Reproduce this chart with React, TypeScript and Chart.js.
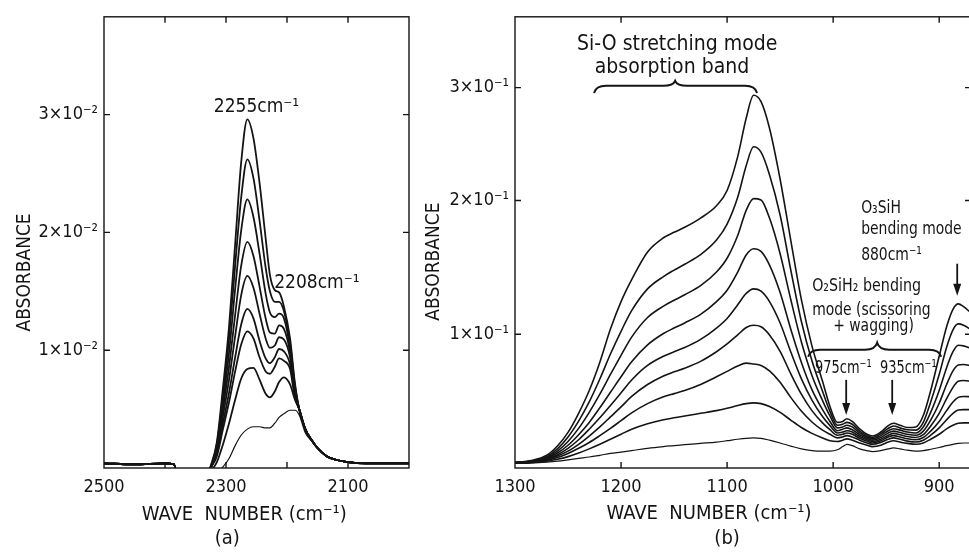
import { useEffect, useRef } from 'react';
import { Chart, registerables, LinearScale } from 'chart.js';

const FONT = "'DejaVu Sans Condensed', 'Liberation Sans Narrow', 'DejaVu Sans', sans-serif";
const INK = '#141414';

// ---------------- panel (a): Si-H stretching region ----------------
const WN_A = [2500, 2450, 2400, 2385, 2380, 2360, 2335, 2325, 2315, 2305, 2295, 2285, 2275, 2265, 2255, 2245, 2235, 2228, 2220, 2213, 2205, 2195, 2187, 2180, 2170, 2160, 2150, 2135, 2120, 2100, 2070, 2040, 2000];
const A1 = [0.0004, 0.0003, 0.0004, 0.0003, -0.0012, -0.002, -0.0012, 0.0002, 0.0022, 0.0068, 0.012, 0.019, 0.026, 0.0296, 0.028, 0.0242, 0.0195, 0.0164, 0.0151, 0.0149, 0.0137, 0.011, 0.0072, 0.005, 0.0033, 0.0024, 0.0017, 0.001, 0.0007, 0.0005, 0.0004, 0.0004, 0.0004];
const A2 = [0.0004, 0.0003, 0.0004, 0.0003, -0.0012, -0.002, -0.0012, 0.0001, 0.002, 0.0062, 0.011, 0.0172, 0.023, 0.0262, 0.0246, 0.021, 0.017, 0.015, 0.0141, 0.0141, 0.0133, 0.0106, 0.007, 0.005, 0.0033, 0.0024, 0.0017, 0.001, 0.0007, 0.0005, 0.0004, 0.0004, 0.0004];
const A3 = [0.0004, 0.0003, 0.0004, 0.0003, -0.0012, -0.002, -0.0012, 0.0001, 0.0018, 0.0056, 0.0098, 0.0152, 0.0202, 0.0228, 0.0213, 0.0182, 0.0148, 0.0132, 0.0128, 0.0131, 0.0127, 0.0102, 0.0068, 0.005, 0.0033, 0.0024, 0.0017, 0.001, 0.0007, 0.0005, 0.0004, 0.0004, 0.0004];
const A4 = [0.0004, 0.0003, 0.0004, 0.0003, -0.0012, -0.002, -0.0012, 0.0, 0.0016, 0.005, 0.0086, 0.013, 0.0172, 0.0192, 0.018, 0.0154, 0.0127, 0.0115, 0.0114, 0.0121, 0.0118, 0.0098, 0.0066, 0.005, 0.0033, 0.0024, 0.0017, 0.001, 0.0007, 0.0005, 0.0004, 0.0004, 0.0004];
const A5 = [0.0004, 0.0003, 0.0004, 0.0003, -0.0012, -0.002, -0.0012, 0.0, 0.0014, 0.0044, 0.0075, 0.0112, 0.0147, 0.0163, 0.0153, 0.0131, 0.011, 0.0102, 0.0104, 0.0111, 0.0109, 0.0094, 0.0064, 0.005, 0.0033, 0.0024, 0.0017, 0.001, 0.0007, 0.0005, 0.0004, 0.0004, 0.0004];
const A6 = [0.0004, 0.0003, 0.0004, 0.0003, -0.0012, -0.002, -0.0012, 0.0, 0.0012, 0.0038, 0.0064, 0.0094, 0.0122, 0.0135, 0.0127, 0.0108, 0.0093, 0.0089, 0.0094, 0.0101, 0.0099, 0.0088, 0.0062, 0.005, 0.0033, 0.0024, 0.0017, 0.001, 0.0007, 0.0005, 0.0004, 0.0004, 0.0004];
const A7 = [0.0004, 0.0003, 0.0004, 0.0003, -0.0012, -0.002, -0.0012, 0.0, 0.001, 0.0033, 0.0056, 0.0082, 0.0105, 0.0116, 0.011, 0.0094, 0.0082, 0.008, 0.0086, 0.0093, 0.0091, 0.0084, 0.006, 0.005, 0.0033, 0.0024, 0.0017, 0.001, 0.0007, 0.0005, 0.0004, 0.0004, 0.0004];
const A8 = [0.0004, 0.0003, 0.0004, 0.0003, -0.0012, -0.002, -0.0012, -0.0003, 0.0005, 0.002, 0.0038, 0.0058, 0.0076, 0.0084, 0.0085, 0.0075, 0.0063, 0.006, 0.0065, 0.0073, 0.0077, 0.0071, 0.0058, 0.005, 0.0033, 0.0024, 0.0017, 0.001, 0.0007, 0.0005, 0.0004, 0.0004, 0.0004];
const A9 = [0.0004, 0.0003, 0.0004, 0.0003, -0.0012, -0.002, -0.0012, -0.0008, -0.0004, 0.0001, 0.0008, 0.0019, 0.0028, 0.0033, 0.0035, 0.0035, 0.0034, 0.0034, 0.0038, 0.0043, 0.0046, 0.0049, 0.0049, 0.0045, 0.003, 0.0023, 0.0017, 0.001, 0.0007, 0.0005, 0.0004, 0.0004, 0.0004];
const SERIES_A = [A1, A2, A3, A4, A5, A6, A7, A8, A9];
const X_LABELS_A = [2500, 2300, 2100];
const X_MARKS_A = [2400, 2300, 2200, 2100];
const Y_TICKS_A = [0.01, 0.02, 0.03];
const Y_LABELS_A = ['1×10⁻²', '2×10⁻²', '3×10⁻²'];

// ---------------- panel (b): Si-O and bending region ----------------
const WN_B = [1300, 1285, 1270, 1260, 1250, 1240, 1230, 1220, 1210, 1200, 1190, 1175, 1160, 1150, 1140, 1125, 1110, 1100, 1090, 1082, 1075, 1068, 1060, 1050, 1040, 1030, 1020, 1010, 1003, 996, 991, 987, 982, 975, 968, 963, 955, 948, 943, 937, 930, 922, 915, 908, 900, 893, 887, 882, 877, 870];
const B1 = [0.0041, 0.0055, 0.0095, 0.0164, 0.0266, 0.0409, 0.0579, 0.0791, 0.1039, 0.1244, 0.1408, 0.1615, 0.1721, 0.1762, 0.1799, 0.1868, 0.196, 0.2088, 0.2388, 0.2728, 0.2932, 0.2876, 0.264, 0.2188, 0.1704, 0.1261, 0.0913, 0.0648, 0.046, 0.0341, 0.0348, 0.0368, 0.0348, 0.0293, 0.0252, 0.0239, 0.0269, 0.0317, 0.0334, 0.032, 0.0303, 0.0307, 0.0392, 0.0579, 0.0835, 0.1056, 0.1186, 0.1227, 0.1206, 0.1159];
const B2 = [0.0041, 0.0051, 0.0085, 0.0143, 0.0232, 0.0351, 0.0494, 0.0665, 0.0852, 0.1022, 0.1176, 0.1339, 0.1431, 0.1479, 0.1523, 0.1595, 0.1704, 0.1823, 0.2028, 0.2308, 0.2476, 0.2428, 0.2228, 0.1891, 0.1482, 0.1097, 0.0801, 0.0573, 0.0423, 0.032, 0.0327, 0.0341, 0.0327, 0.0276, 0.0242, 0.0228, 0.0256, 0.0296, 0.0314, 0.03, 0.0286, 0.0283, 0.0341, 0.0494, 0.0699, 0.0903, 0.1033, 0.1077, 0.1067, 0.1033];
const B3 = [0.0041, 0.0051, 0.0078, 0.0126, 0.0198, 0.0296, 0.0416, 0.0552, 0.0699, 0.0842, 0.0978, 0.1125, 0.121, 0.1254, 0.1295, 0.1363, 0.1465, 0.1568, 0.1738, 0.1926, 0.2016, 0.2004, 0.1868, 0.1602, 0.1261, 0.0944, 0.0692, 0.0504, 0.0389, 0.03, 0.0307, 0.032, 0.0307, 0.0262, 0.0232, 0.0218, 0.0242, 0.0279, 0.0293, 0.0283, 0.0269, 0.0262, 0.0307, 0.0416, 0.0579, 0.075, 0.0869, 0.0917, 0.0913, 0.0893];
const B4 = [0.0041, 0.0048, 0.0072, 0.0112, 0.017, 0.0249, 0.0341, 0.045, 0.0566, 0.0682, 0.0794, 0.092, 0.1005, 0.1046, 0.1084, 0.1148, 0.1244, 0.1329, 0.1465, 0.1592, 0.1639, 0.1619, 0.1517, 0.1312, 0.1039, 0.0791, 0.0586, 0.0436, 0.0348, 0.0279, 0.029, 0.03, 0.0286, 0.0249, 0.0222, 0.0208, 0.0228, 0.0262, 0.0276, 0.0266, 0.0252, 0.0245, 0.0276, 0.0358, 0.0484, 0.0624, 0.0726, 0.077, 0.0774, 0.0763];
const B5 = [0.0041, 0.0048, 0.0065, 0.0099, 0.0147, 0.0211, 0.029, 0.0375, 0.0467, 0.0562, 0.0658, 0.0767, 0.0835, 0.0869, 0.09, 0.0961, 0.1046, 0.1118, 0.122, 0.1305, 0.1339, 0.1322, 0.1244, 0.1084, 0.0869, 0.0668, 0.0508, 0.0385, 0.0317, 0.0262, 0.0269, 0.0279, 0.0269, 0.0235, 0.0211, 0.0198, 0.0215, 0.0245, 0.0259, 0.0249, 0.0235, 0.0228, 0.0249, 0.0314, 0.0409, 0.0518, 0.0603, 0.0648, 0.0654, 0.0648];
const B6 = [0.0041, 0.0044, 0.0061, 0.0089, 0.0126, 0.0177, 0.0239, 0.0307, 0.0382, 0.0457, 0.0535, 0.0624, 0.0688, 0.0719, 0.0746, 0.0797, 0.0869, 0.0927, 0.0995, 0.105, 0.1067, 0.1056, 0.0995, 0.0872, 0.0705, 0.0552, 0.0429, 0.0337, 0.0286, 0.0245, 0.0252, 0.0262, 0.0252, 0.0222, 0.0201, 0.0187, 0.0204, 0.0232, 0.0242, 0.0232, 0.0218, 0.0211, 0.0228, 0.0276, 0.0348, 0.0429, 0.0494, 0.0528, 0.0535, 0.0532];
const B7 = [0.0041, 0.0044, 0.0058, 0.0078, 0.0109, 0.0147, 0.0191, 0.0242, 0.0296, 0.0354, 0.0412, 0.0481, 0.0532, 0.0556, 0.0579, 0.0624, 0.0682, 0.0722, 0.0763, 0.0784, 0.0777, 0.0767, 0.0726, 0.0641, 0.0528, 0.0426, 0.0344, 0.0283, 0.0252, 0.0225, 0.0232, 0.0242, 0.0232, 0.0208, 0.0187, 0.0177, 0.0191, 0.0215, 0.0225, 0.0215, 0.0201, 0.0194, 0.0208, 0.0245, 0.03, 0.0361, 0.0409, 0.0433, 0.0436, 0.0436];
const B8 = [0.0037, 0.0041, 0.0051, 0.0065, 0.0085, 0.0112, 0.0143, 0.0177, 0.0215, 0.0252, 0.029, 0.0331, 0.0361, 0.0375, 0.0389, 0.0409, 0.0429, 0.0446, 0.0467, 0.0481, 0.0487, 0.0481, 0.046, 0.0416, 0.0358, 0.0303, 0.0259, 0.0225, 0.0204, 0.0198, 0.0208, 0.0218, 0.0208, 0.0187, 0.017, 0.016, 0.017, 0.0194, 0.0204, 0.0194, 0.0184, 0.0177, 0.0187, 0.0215, 0.0252, 0.0293, 0.032, 0.0334, 0.0337, 0.0337];
const B9 = [0.0034, 0.0037, 0.0044, 0.0051, 0.0061, 0.0072, 0.0082, 0.0095, 0.0109, 0.0119, 0.013, 0.0147, 0.016, 0.0167, 0.0174, 0.0184, 0.0194, 0.0204, 0.0215, 0.0222, 0.0225, 0.0222, 0.0208, 0.0187, 0.0164, 0.0143, 0.013, 0.0126, 0.0126, 0.0136, 0.016, 0.0177, 0.0167, 0.0143, 0.013, 0.0123, 0.013, 0.0143, 0.015, 0.0143, 0.0133, 0.0126, 0.013, 0.014, 0.0153, 0.0167, 0.0177, 0.0184, 0.0187, 0.0187];
const SERIES_B = [B1, B2, B3, B4, B5, B6, B7, B8, B9];
const X_LABELS_B = [1300, 1200, 1100, 1000, 900];
const X_MARKS_B = [1200, 1100, 1000, 900];
const Y_TICKS_B = [0.1, 0.2, 0.3];
const Y_LABELS_B = ['1×10⁻¹', '2×10⁻¹', '3×10⁻¹'];

// the printed absorbance axis of (b) is not evenly graduated: value knots vs fraction of axis height
const B_AXIS_VALUES = [0, 0.2, 0.3, 0.3628];
const B_AXIS_FRACTIONS = [0, 0.593, 0.843, 1];

function interp(xs: number[], ys: number[], v: number) {
  const n = xs.length;
  let i = 1;
  while (i < n - 1 && v > xs[i]) i++;
  return ys[i - 1] + ((v - xs[i - 1]) * (ys[i] - ys[i - 1])) / (xs[i] - xs[i - 1]);
}

class BrokenLinearScale extends LinearScale {
  static id = 'brokenLinear';
  static defaults = {};
  getPixelForValue(value: any) {
    if (value === null || value === undefined || Number.isNaN(value)) return NaN;
    return (this as any).getPixelForDecimal(interp(B_AXIS_VALUES, B_AXIS_FRACTIONS, value));
  }
  getValueForPixel(pixel: number) {
    return interp(B_AXIS_FRACTIONS, B_AXIS_VALUES, (this as any).getDecimalForPixel(pixel));
  }
}

Chart.register(...registerables, BrokenLinearScale);

type TextItem = { text: string; x: number; y: number; align?: CanvasTextAlign; size?: number; squeeze?: number };
type Spec = {
  xMarks: number[];
  yMarks: number[];
  texts: TextItem[];
  arrows: { x: number; from: number; to: number }[];
  braces: { x1: number; x2: number; xc: number; body: number; end: number; tip: number }[];
  below: { text: string; x: number; dy: number }[];
  yTitle: { text: string; y: number; dx: number };
};

function decor(spec: Spec) {
  return {
    id: 'decor',
    afterDraw(chart: any) {
      const ctx = chart.ctx as CanvasRenderingContext2D;
      const a = chart.chartArea;
      const xs = chart.scales.x;
      const ys = chart.scales.y;
      ctx.save();
      ctx.strokeStyle = INK;
      ctx.lineWidth = 1.4;
      ctx.strokeRect(a.left, a.top, a.right - a.left, a.bottom - a.top);
      const L = 6;
      ctx.beginPath();
      for (const v of spec.xMarks) {
        const px = xs.getPixelForValue(v);
        ctx.moveTo(px, a.bottom);
        ctx.lineTo(px, a.bottom - L);
        ctx.moveTo(px, a.top);
        ctx.lineTo(px, a.top + L);
      }
      for (const v of spec.yMarks) {
        const py = ys.getPixelForValue(v);
        ctx.moveTo(a.left, py);
        ctx.lineTo(a.left + L, py);
        ctx.moveTo(a.right, py);
        ctx.lineTo(a.right - L, py);
      }
      ctx.stroke();

      ctx.fillStyle = INK;
      ctx.textBaseline = 'alphabetic';
      for (const t of spec.texts) {
        ctx.save();
        ctx.font = `${t.size || 17}px ${FONT}`;
        ctx.textAlign = t.align || 'left';
        ctx.translate(xs.getPixelForValue(t.x), ys.getPixelForValue(t.y));
        ctx.scale(t.squeeze || 1, 1);
        ctx.fillText(t.text, 0, 0);
        ctx.restore();
      }
      for (const t of spec.below) {
        ctx.font = `20px ${FONT}`;
        ctx.textAlign = 'center';
        ctx.fillText(t.text, xs.getPixelForValue(t.x), a.bottom + t.dy);
      }
      ctx.save();
      ctx.font = `19px ${FONT}`;
      ctx.textAlign = 'center';
      ctx.textBaseline = 'middle';
      ctx.translate(a.left - spec.yTitle.dx, ys.getPixelForValue(spec.yTitle.y));
      ctx.rotate(-Math.PI / 2);
      ctx.fillText(spec.yTitle.text, 0, 0);
      ctx.restore();

      ctx.lineWidth = 1.8;
      for (const ar of spec.arrows) {
        const px = xs.getPixelForValue(ar.x);
        const y1 = ys.getPixelForValue(ar.from);
        const y2 = ys.getPixelForValue(ar.to);
        ctx.beginPath();
        ctx.moveTo(px, y1);
        ctx.lineTo(px, y2 - 8);
        ctx.stroke();
        ctx.beginPath();
        ctx.moveTo(px - 4, y2 - 12);
        ctx.lineTo(px + 4, y2 - 12);
        ctx.lineTo(px, y2);
        ctx.closePath();
        ctx.fill();
      }
      ctx.lineWidth = 2;
      for (const b of spec.braces) {
        const x1 = xs.getPixelForValue(b.x1);
        const x2 = xs.getPixelForValue(b.x2);
        const xc = xs.getPixelForValue(b.xc);
        const yb = ys.getPixelForValue(b.body);
        const ye = ys.getPixelForValue(b.end);
        const yt = ys.getPixelForValue(b.tip);
        const r = 12;
        ctx.beginPath();
        ctx.moveTo(x1, ye);
        ctx.quadraticCurveTo(x1 + 2, yb, x1 + r, yb);
        ctx.lineTo(xc - r, yb);
        ctx.quadraticCurveTo(xc - 2, yb, xc, yt);
        ctx.quadraticCurveTo(xc + 2, yb, xc + r, yb);
        ctx.lineTo(x2 - r, yb);
        ctx.quadraticCurveTo(x2 - 2, yb, x2, ye);
        ctx.stroke();
      }
      ctx.restore();
    },
  };
}

function makeConfig(opts: {
  wn: number[];
  series: number[][];
  xMin: number;
  xMax: number;
  xLabels: number[];
  yType: string;
  yMax: number;
  yTicks: number[];
  yLabels: string[];
  yAxisWidth: number;
  padRight: number;
  lineWidth: number;
  spec: Spec;
}) {
  const tickFont = { family: FONT, size: 18 };
  return {
    type: 'line' as const,
    data: {
      datasets: opts.series.map((s, i) => ({
        data: opts.wn.map((x, j) => ({ x, y: s[j] })),
        borderColor: INK,
        borderWidth: i === opts.series.length - 1 ? 1.2 : opts.lineWidth,
        pointRadius: 0,
        fill: false,
        cubicInterpolationMode: 'monotone' as const,
        clip: 0,
      })),
    },
    options: {
      responsive: false,
      animation: false as const,
      devicePixelRatio: 1,
      events: [],
      layout: { padding: { top: 13, right: opts.padRight, left: 0, bottom: 0 } },
      plugins: { legend: { display: false }, tooltip: { enabled: false } },
      scales: {
        x: {
          type: 'linear' as const,
          reverse: true,
          min: opts.xMin,
          max: opts.xMax,
          afterBuildTicks: (s: any) => {
            s.ticks = opts.xLabels.map((v) => ({ value: v }));
          },
          afterFit: (s: any) => {
            s.height = 84;
          },
          ticks: { autoSkip: false, maxRotation: 0, padding: 9, font: tickFont, color: INK, callback: (v: any) => String(v) },
          grid: { display: false, drawTicks: false },
          border: { display: false },
        },
        y: {
          type: opts.yType as any,
          min: 0,
          max: opts.yMax,
          afterBuildTicks: (s: any) => {
            s.ticks = opts.yTicks.map((v) => ({ value: v }));
          },
          afterFit: (s: any) => {
            s.width = opts.yAxisWidth;
          },
          ticks: {
            autoSkip: false,
            padding: 6,
            font: tickFont,
            color: INK,
            callback: (v: any) => {
              const k = opts.yTicks.indexOf(v);
              return k >= 0 ? opts.yLabels[k] : '';
            },
          },
          grid: { display: false, drawTicks: false },
          border: { display: false },
        },
      },
    },
    plugins: [decor(opts.spec)],
  };
}

export default function App() {
  const refA = useRef<HTMLCanvasElement>(null);
  const refB = useRef<HTMLCanvasElement>(null);

  useEffect(() => {
    const chartA = new Chart(
      refA.current as HTMLCanvasElement,
      makeConfig({
        wn: WN_A,
        series: SERIES_A,
        xMin: 2000,
        xMax: 2500,
        xLabels: X_LABELS_A,
        yType: 'linear',
        yMax: 0.0383,
        yTicks: Y_TICKS_A,
        yLabels: Y_LABELS_A,
        yAxisWidth: 104,
        padRight: 3,
        lineWidth: 1.8,
        spec: {
          xMarks: X_MARKS_A,
          yMarks: Y_TICKS_A,
          texts: [
            { text: '2255cm⁻¹', x: 2320, y: 0.0302, size: 19 },
            { text: '2208cm⁻¹', x: 2221, y: 0.0153, size: 19 },
          ],
          arrows: [],
          braces: [],
          below: [
            { text: 'WAVE  NUMBER (cm⁻¹)', x: 2270, dy: 52 },
            { text: '(a)', x: 2298, dy: 76 },
          ],
          yTitle: { text: 'ABSORBANCE', y: 0.0166, dx: 79 },
        },
      }) as any
    );
    const chartB = new Chart(
      refB.current as HTMLCanvasElement,
      makeConfig({
        wn: WN_B,
        series: SERIES_B,
        xMin: 870,
        xMax: 1300,
        xLabels: X_LABELS_B,
        yType: 'brokenLinear',
        yMax: 0.3628,
        yTicks: Y_TICKS_B,
        yLabels: Y_LABELS_B,
        yAxisWidth: 103,
        padRight: 4,
        lineWidth: 1.6,
        spec: {
          xMarks: X_MARKS_B,
          yMarks: Y_TICKS_B,
          texts: [
            { text: 'Si-O stretching mode', x: 1147, y: 0.333, align: 'center', size: 21 },
            { text: 'absorption band', x: 1152, y: 0.3128, align: 'center', size: 21 },
            { text: 'O₃SiH', x: 973.6, y: 0.1909, size: 18, squeeze: 0.86 },
            { text: 'bending mode', x: 973.6, y: 0.1748, size: 18, squeeze: 0.86 },
            { text: '880cm⁻¹', x: 973.6, y: 0.1557, size: 18, squeeze: 0.86 },
            { text: 'O₂SiH₂ bending', x: 1019.8, y: 0.1326, size: 18, squeeze: 0.88 },
            { text: 'mode (scissoring', x: 1019.8, y: 0.1143, size: 18, squeeze: 0.86 },
            { text: '+ wagging)', x: 1000, y: 0.1022, size: 18, squeeze: 0.86 },
            { text: '975cm⁻¹', x: 1017, y: 0.0712, size: 18, squeeze: 0.8 },
            { text: '935cm⁻¹', x: 955.7, y: 0.0712, size: 18, squeeze: 0.8 },
          ],
          arrows: [
            { x: 883, from: 0.1527, to: 0.1288 },
            { x: 987.7, from: 0.0659, to: 0.0397 },
            { x: 944.3, from: 0.0659, to: 0.0397 },
          ],
          braces: [
            { x1: 1225.5, x2: 1071.7, xc: 1149, body: 0.3016, end: 0.2952, tip: 0.306 },
            { x1: 1023.6, x2: 898.1, xc: 958.5, body: 0.0884, end: 0.0831, tip: 0.0936 },
          ],
          below: [
            { text: 'WAVE  NUMBER (cm⁻¹)', x: 1117, dy: 51 },
            { text: '(b)', x: 1100, dy: 76 },
          ],
          yTitle: { text: 'ABSORBANCE', y: 0.1543, dx: 81 },
        },
      }) as any
    );
    return () => {
      chartA.destroy();
      chartB.destroy();
    };
  }, []);

  return (
    <div style={{ position: 'fixed', left: 0, top: 0, width: 969, height: 552, overflow: 'hidden', background: '#fff' }}>
      <canvas ref={refA} width={412} height={552} style={{ position: 'absolute', left: 0, top: 0, width: 412, height: 552 }} />
      <canvas ref={refB} width={563} height={552} style={{ position: 'absolute', left: 412, top: 0, width: 563, height: 552 }} />
    </div>
  );
}
